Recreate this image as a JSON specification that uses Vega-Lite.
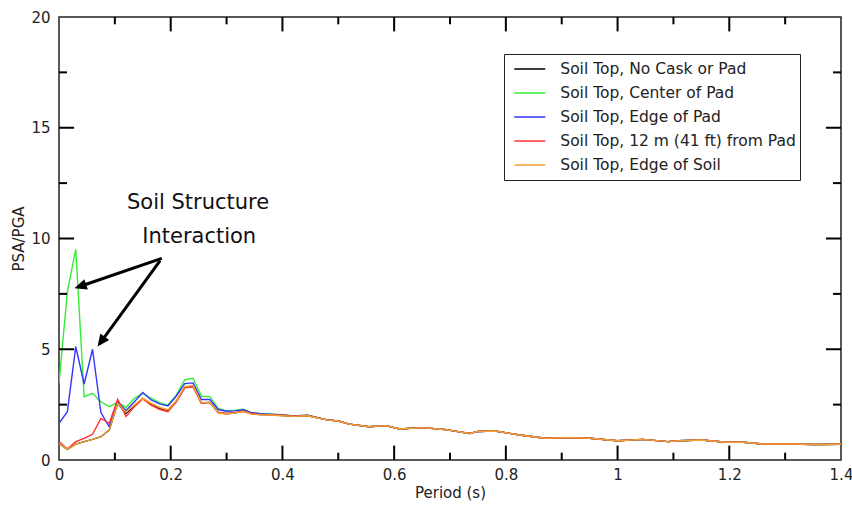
{
  "$schema": "https://vega.github.io/schema/vega-lite/v6.json",
  "width": 782,
  "height": 443,
  "autosize": {"type": "none"},
  "padding": {"left": 59, "top": 17, "right": 11, "bottom": 46},
  "background": "white",
  "config": {"view": {"stroke": "#222", "strokeWidth": 1.5}, "font": "DejaVu Sans"},
  "datasets": {
    "spectra": [
      {"p": 0, "k": 0.75, "g": 3.46, "b": 1.66, "r": 0.83, "o": 0.75},
      {"p": 0.015, "k": 0.48, "g": 7.6, "b": 2.18, "r": 0.5, "o": 0.48},
      {"p": 0.03, "k": 0.72, "g": 9.51, "b": 5.12, "r": 0.83, "o": 0.72},
      {"p": 0.045, "k": 0.83, "g": 2.86, "b": 3.43, "r": 0.98, "o": 0.83},
      {"p": 0.06, "k": 0.93, "g": 3.01, "b": 5.0, "r": 1.16, "o": 0.93},
      {"p": 0.075, "k": 1.05, "g": 2.63, "b": 2.14, "r": 1.88, "o": 1.05},
      {"p": 0.09, "k": 1.35, "g": 2.41, "b": 1.5, "r": 1.66, "o": 1.35},
      {"p": 0.105, "k": 2.56, "g": 2.6, "b": 2.63, "r": 2.74, "o": 2.56},
      {"p": 0.12, "k": 2.1, "g": 2.38, "b": 2.24, "r": 1.96, "o": 2.15},
      {"p": 0.135, "k": 2.45, "g": 2.79, "b": 2.63, "r": 2.41, "o": 2.48},
      {"p": 0.15, "k": 2.78, "g": 3.01, "b": 3.05, "r": 2.76, "o": 2.79},
      {"p": 0.165, "k": 2.52, "g": 2.79, "b": 2.71, "r": 2.48, "o": 2.56},
      {"p": 0.18, "k": 2.33, "g": 2.59, "b": 2.53, "r": 2.29, "o": 2.38},
      {"p": 0.195, "k": 2.22, "g": 2.48, "b": 2.44, "r": 2.18, "o": 2.26},
      {"p": 0.21, "k": 2.65, "g": 2.93, "b": 2.89, "r": 2.63, "o": 2.68},
      {"p": 0.225, "k": 3.28, "g": 3.62, "b": 3.45, "r": 3.26, "o": 3.31},
      {"p": 0.24, "k": 3.33, "g": 3.69, "b": 3.48, "r": 3.31, "o": 3.36},
      {"p": 0.255, "k": 2.57, "g": 2.88, "b": 2.73, "r": 2.56, "o": 2.58},
      {"p": 0.27, "k": 2.6, "g": 2.86, "b": 2.73, "r": 2.6, "o": 2.62},
      {"p": 0.285, "k": 2.14, "g": 2.33, "b": 2.28, "r": 2.16, "o": 2.12},
      {"p": 0.3, "k": 2.09, "g": 2.22, "b": 2.2, "r": 2.1, "o": 2.08},
      {"p": 0.315, "k": 2.13, "g": 2.25, "b": 2.22, "r": 2.14, "o": 2.12},
      {"p": 0.33, "k": 2.2, "g": 2.29, "b": 2.27, "r": 2.21, "o": 2.19},
      {"p": 0.345, "k": 2.08, "g": 2.14, "b": 2.13, "r": 2.09, "o": 2.07},
      {"p": 0.36, "k": 2.05, "g": 2.1, "b": 2.09, "r": 2.06, "o": 2.04},
      {"p": 0.375, "k": 2.04, "g": 2.08, "b": 2.07, "r": 2.05, "o": 2.03},
      {"p": 0.4, "k": 2.01, "g": 2.04, "b": 2.03, "r": 2.02, "o": 2.0},
      {"p": 0.42, "k": 1.97, "g": 1.99, "b": 1.99, "r": 1.98, "o": 1.97},
      {"p": 0.445, "k": 2.0, "g": 2.02, "b": 2.02, "r": 2.01, "o": 2.0},
      {"p": 0.48, "k": 1.81, "g": 1.81, "b": 1.81, "r": 1.81, "o": 1.81},
      {"p": 0.5, "k": 1.76, "g": 1.76, "b": 1.76, "r": 1.76, "o": 1.76},
      {"p": 0.52, "k": 1.62, "g": 1.62, "b": 1.62, "r": 1.62, "o": 1.62},
      {"p": 0.555, "k": 1.5, "g": 1.5, "b": 1.5, "r": 1.5, "o": 1.5},
      {"p": 0.585, "k": 1.55, "g": 1.55, "b": 1.55, "r": 1.55, "o": 1.55},
      {"p": 0.61, "k": 1.4, "g": 1.4, "b": 1.4, "r": 1.4, "o": 1.4},
      {"p": 0.65, "k": 1.46, "g": 1.46, "b": 1.46, "r": 1.46, "o": 1.46},
      {"p": 0.69, "k": 1.38, "g": 1.38, "b": 1.38, "r": 1.38, "o": 1.38},
      {"p": 0.735, "k": 1.2, "g": 1.2, "b": 1.2, "r": 1.2, "o": 1.2},
      {"p": 0.75, "k": 1.29, "g": 1.29, "b": 1.29, "r": 1.29, "o": 1.29},
      {"p": 0.78, "k": 1.31, "g": 1.31, "b": 1.31, "r": 1.31, "o": 1.31},
      {"p": 0.825, "k": 1.13, "g": 1.13, "b": 1.13, "r": 1.13, "o": 1.13},
      {"p": 0.87, "k": 0.98, "g": 0.98, "b": 0.98, "r": 0.98, "o": 0.98},
      {"p": 0.91, "k": 1.01, "g": 1.01, "b": 1.01, "r": 1.01, "o": 1.01},
      {"p": 0.95, "k": 0.98, "g": 0.98, "b": 0.98, "r": 0.98, "o": 0.98},
      {"p": 1.0, "k": 0.87, "g": 0.87, "b": 0.87, "r": 0.87, "o": 0.87},
      {"p": 1.045, "k": 0.93, "g": 0.93, "b": 0.93, "r": 0.93, "o": 0.93},
      {"p": 1.09, "k": 0.83, "g": 0.83, "b": 0.83, "r": 0.83, "o": 0.83},
      {"p": 1.11, "k": 0.87, "g": 0.87, "b": 0.87, "r": 0.87, "o": 0.87},
      {"p": 1.15, "k": 0.9, "g": 0.9, "b": 0.9, "r": 0.9, "o": 0.9},
      {"p": 1.195, "k": 0.8, "g": 0.8, "b": 0.8, "r": 0.8, "o": 0.8},
      {"p": 1.225, "k": 0.8, "g": 0.8, "b": 0.8, "r": 0.8, "o": 0.8},
      {"p": 1.26, "k": 0.72, "g": 0.72, "b": 0.72, "r": 0.72, "o": 0.72},
      {"p": 1.315, "k": 0.72, "g": 0.72, "b": 0.72, "r": 0.72, "o": 0.72},
      {"p": 1.35, "k": 0.7, "g": 0.7, "b": 0.7, "r": 0.7, "o": 0.7},
      {"p": 1.4, "k": 0.71, "g": 0.71, "b": 0.71, "r": 0.71, "o": 0.71}
    ],
    "ticks": [
      {"x": 0.1, "y": 0, "x2": 0.1, "y2": 0.33}, {"x": 0.2, "y": 0, "x2": 0.2, "y2": 0.65},
      {"x": 0.3, "y": 0, "x2": 0.3, "y2": 0.33}, {"x": 0.4, "y": 0, "x2": 0.4, "y2": 0.65},
      {"x": 0.5, "y": 0, "x2": 0.5, "y2": 0.33}, {"x": 0.6, "y": 0, "x2": 0.6, "y2": 0.65},
      {"x": 0.7, "y": 0, "x2": 0.7, "y2": 0.33}, {"x": 0.8, "y": 0, "x2": 0.8, "y2": 0.65},
      {"x": 0.9, "y": 0, "x2": 0.9, "y2": 0.33}, {"x": 1.0, "y": 0, "x2": 1.0, "y2": 0.65},
      {"x": 1.1, "y": 0, "x2": 1.1, "y2": 0.33}, {"x": 1.2, "y": 0, "x2": 1.2, "y2": 0.65},
      {"x": 1.3, "y": 0, "x2": 1.3, "y2": 0.33},
      {"x": 0.1, "y": 20, "x2": 0.1, "y2": 19.67}, {"x": 0.2, "y": 20, "x2": 0.2, "y2": 19.35},
      {"x": 0.3, "y": 20, "x2": 0.3, "y2": 19.67}, {"x": 0.4, "y": 20, "x2": 0.4, "y2": 19.35},
      {"x": 0.5, "y": 20, "x2": 0.5, "y2": 19.67}, {"x": 0.6, "y": 20, "x2": 0.6, "y2": 19.35},
      {"x": 0.7, "y": 20, "x2": 0.7, "y2": 19.67}, {"x": 0.8, "y": 20, "x2": 0.8, "y2": 19.35},
      {"x": 0.9, "y": 20, "x2": 0.9, "y2": 19.67}, {"x": 1.0, "y": 20, "x2": 1.0, "y2": 19.35},
      {"x": 1.1, "y": 20, "x2": 1.1, "y2": 19.67}, {"x": 1.2, "y": 20, "x2": 1.2, "y2": 19.35},
      {"x": 1.3, "y": 20, "x2": 1.3, "y2": 19.67},
      {"x": 0, "y": 2.5, "x2": 0.0143, "y2": 2.5}, {"x": 0, "y": 5, "x2": 0.027, "y2": 5},
      {"x": 0, "y": 7.5, "x2": 0.0143, "y2": 7.5}, {"x": 0, "y": 10, "x2": 0.027, "y2": 10},
      {"x": 0, "y": 12.5, "x2": 0.0143, "y2": 12.5}, {"x": 0, "y": 15, "x2": 0.027, "y2": 15},
      {"x": 0, "y": 17.5, "x2": 0.0143, "y2": 17.5},
      {"x": 1.4, "y": 2.5, "x2": 1.3857, "y2": 2.5}, {"x": 1.4, "y": 5, "x2": 1.373, "y2": 5},
      {"x": 1.4, "y": 7.5, "x2": 1.3857, "y2": 7.5}, {"x": 1.4, "y": 10, "x2": 1.373, "y2": 10},
      {"x": 1.4, "y": 12.5, "x2": 1.3857, "y2": 12.5}, {"x": 1.4, "y": 15, "x2": 1.373, "y2": 15},
      {"x": 1.4, "y": 17.5, "x2": 1.3857, "y2": 17.5}
    ],
    "arrows": [
      {"id": 1, "x": 0.184, "y": 9.1, "bx": 0.0448, "by": 7.9, "tx": 0.0278, "ty": 7.75},
      {"id": 2, "x": 0.181, "y": 9.0, "bx": 0.0795, "by": 5.48, "tx": 0.069, "ty": 5.12}
    ],
    "notes": [
      {"t": "Soil Structure", "x": 0.249, "y": 11.35},
      {"t": "Interaction", "x": 0.251, "y": 9.8}
    ]
  },
  "layer": [
    {
      "data": {"name": "spectra"},
      "transform": [{"fold": ["k", "g", "b", "r", "o"], "as": ["series", "psa"]}],
      "mark": {"type": "line", "strokeWidth": 1.4, "clip": true},
      "encoding": {
        "x": {
          "field": "p", "type": "quantitative",
          "scale": {"domain": [0, 1.4], "nice": false, "zero": false},
          "axis": {
            "orient": "bottom", "values": [0, 0.2, 0.4, 0.6, 0.8, 1, 1.2, 1.4], "format": "~g",
            "ticks": false, "domain": false, "grid": false, "labelPadding": 7, "labelFontSize": 15, "labelColor": "#222",
            "labelFlush": false, "labelOverlap": false,
            "title": "Period (s)", "titleFontSize": 15, "titleFontWeight": "normal", "titleColor": "#222", "titlePadding": 3
          }
        },
        "y": {
          "field": "psa", "type": "quantitative",
          "scale": {"domain": [0, 20], "nice": false},
          "axis": {
            "orient": "left", "values": [0, 5, 10, 15, 20],
            "ticks": false, "domain": false, "grid": false, "labelPadding": 9, "labelFontSize": 15, "labelColor": "#222",
            "labelFlush": false, "labelOverlap": false,
            "title": "PSA/PGA", "titleFontSize": 15, "titleFontWeight": "normal", "titleColor": "#222", "titlePadding": 4
          }
        },
        "color": {
          "field": "series", "type": "nominal",
          "scale": {"domain": ["k", "g", "b", "r", "o"], "range": ["#000000", "#33ee33", "#3535ff", "#ff3030", "#f5a030"]},
          "legend": {
            "orient": "none", "legendX": 445, "legendY": 37, "title": null, "direction": "vertical",
            "strokeColor": "#222", "padding": 3.3, "clipHeight": 23.3, "symbolOffset": 6, "symbolType": "stroke", "symbolSize": 961, "symbolStrokeWidth": 1.5,
            "labelFont": "DejaVu Sans", "labelFontSize": 15.5, "labelColor": "#222", "labelOffset": 14, "labelLimit": 0, "rowPadding": 0,
            "labelExpr": "{'k': 'Soil Top, No Cask or Pad', 'g': 'Soil Top, Center of Pad', 'b': 'Soil Top, Edge of Pad', 'r': 'Soil Top, 12 m (41 ft) from Pad', 'o': 'Soil Top, Edge of Soil'}[datum.label] + '\u00a0\u00a0\u00a0'"
          }
        }
      }
    },
    {
      "data": {"name": "ticks"},
      "mark": {"type": "rule", "strokeWidth": 2, "color": "black", "strokeCap": "butt"},
      "encoding": {
        "x": {"field": "x", "type": "quantitative"},
        "y": {"field": "y", "type": "quantitative"},
        "x2": {"field": "x2"},
        "y2": {"field": "y2"}
      }
    },
    {
      "data": {"name": "arrows"},
      "mark": {"type": "rule", "strokeWidth": 3, "color": "black", "strokeCap": "butt"},
      "encoding": {
        "x": {"field": "x", "type": "quantitative"},
        "y": {"field": "y", "type": "quantitative"},
        "x2": {"field": "bx"},
        "y2": {"field": "by"}
      }
    },
    {
      "data": {"name": "arrows"},
      "transform": [{"filter": "datum.id == 1"}],
      "mark": {"type": "point", "shape": "M0,0L-0.45,1L0.45,1Z", "filled": true, "color": "black", "opacity": 1, "size": 600, "angle": 251},
      "encoding": {
        "x": {"field": "tx", "type": "quantitative"},
        "y": {"field": "ty", "type": "quantitative"}
      }
    },
    {
      "data": {"name": "arrows"},
      "transform": [{"filter": "datum.id == 2"}],
      "mark": {"type": "point", "shape": "M0,0L-0.45,1L0.45,1Z", "filled": true, "color": "black", "opacity": 1, "size": 600, "angle": 216},
      "encoding": {
        "x": {"field": "tx", "type": "quantitative"},
        "y": {"field": "ty", "type": "quantitative"}
      }
    },
    {
      "data": {"name": "notes"},
      "mark": {"type": "text", "font": "DejaVu Sans", "fontSize": 21, "color": "#111", "align": "center", "baseline": "alphabetic"},
      "encoding": {
        "x": {"field": "x", "type": "quantitative"},
        "y": {"field": "y", "type": "quantitative"},
        "text": {"field": "t"}
      }
    }
  ]
}
